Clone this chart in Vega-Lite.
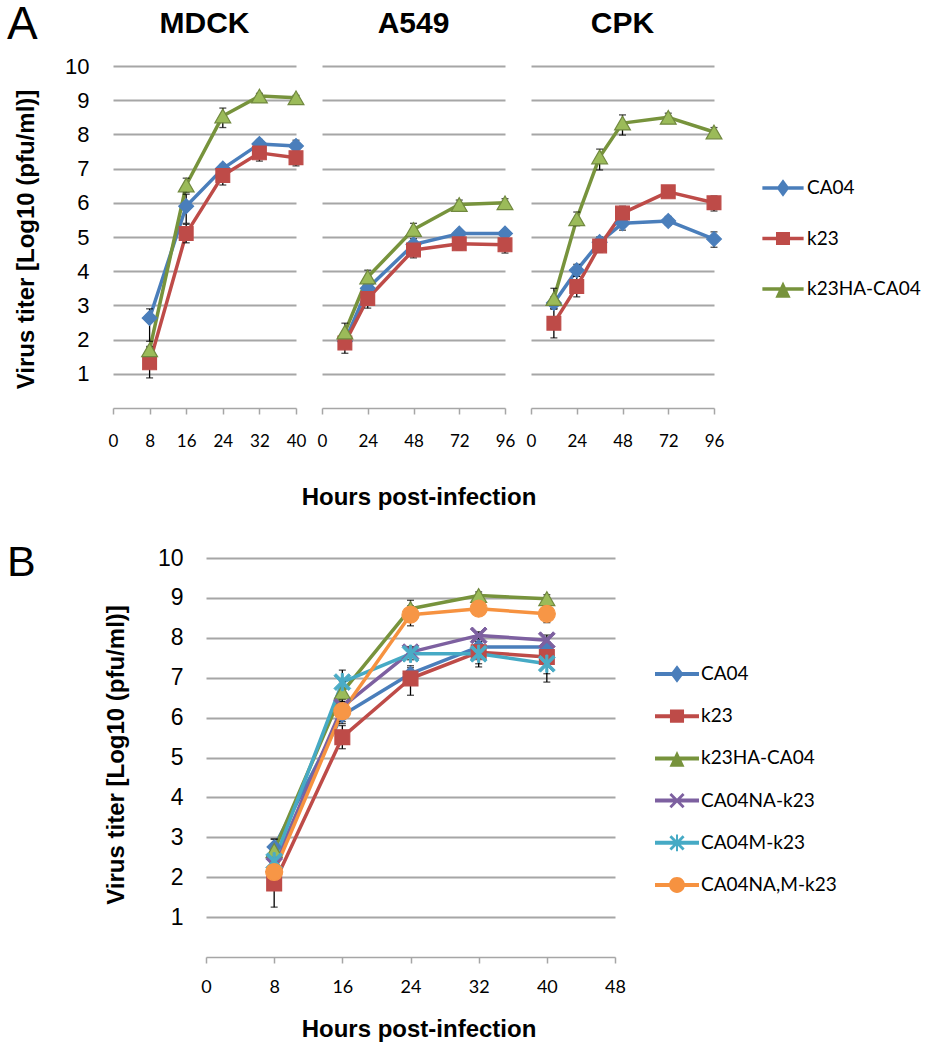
{
  "$schema": "https://vega.github.io/schema/vega-lite/v6.json",
  "padding": {"left": 7, "top": 2, "right": 5, "bottom": 5},
  "background": "white",
  "datasets": {
    "a": [
      {"cell": "MDCK", "strain": "CA04", "h": 8, "v": 2.63, "lo": 1.95, "hi": 2.9},
      {"cell": "MDCK", "strain": "CA04", "h": 16, "v": 5.9, "lo": 5.4, "hi": 6.25},
      {"cell": "MDCK", "strain": "CA04", "h": 24, "v": 7.0, "lo": 6.88, "hi": 7.12},
      {"cell": "MDCK", "strain": "CA04", "h": 32, "v": 7.72, "lo": 7.6, "hi": 7.85},
      {"cell": "MDCK", "strain": "CA04", "h": 40, "v": 7.66, "lo": 7.5, "hi": 7.83},
      {"cell": "MDCK", "strain": "k23", "h": 8, "v": 1.32, "lo": 0.88, "hi": 1.76},
      {"cell": "MDCK", "strain": "k23", "h": 16, "v": 5.1, "lo": 4.83, "hi": 5.37},
      {"cell": "MDCK", "strain": "k23", "h": 24, "v": 6.8, "lo": 6.52, "hi": 7.08},
      {"cell": "MDCK", "strain": "k23", "h": 32, "v": 7.46, "lo": 7.22, "hi": 7.7},
      {"cell": "MDCK", "strain": "k23", "h": 40, "v": 7.32, "lo": 7.08, "hi": 7.56},
      {"cell": "MDCK", "strain": "k23HA-CA04", "h": 8, "v": 1.7, "lo": 1.6, "hi": 1.8},
      {"cell": "MDCK", "strain": "k23HA-CA04", "h": 16, "v": 6.52, "lo": 6.3, "hi": 6.72},
      {"cell": "MDCK", "strain": "k23HA-CA04", "h": 24, "v": 8.54, "lo": 8.2, "hi": 8.77},
      {"cell": "MDCK", "strain": "k23HA-CA04", "h": 32, "v": 9.12, "lo": 9.05, "hi": 9.2},
      {"cell": "MDCK", "strain": "k23HA-CA04", "h": 40, "v": 9.07, "lo": 9.0, "hi": 9.14},
      {"cell": "A549", "strain": "CA04", "h": 12, "v": 1.95, "lo": 1.8, "hi": 2.1},
      {"cell": "A549", "strain": "CA04", "h": 24, "v": 3.5, "lo": 3.35, "hi": 3.65},
      {"cell": "A549", "strain": "CA04", "h": 48, "v": 4.78, "lo": 4.65, "hi": 4.95},
      {"cell": "A549", "strain": "CA04", "h": 72, "v": 5.1, "lo": 5.0, "hi": 5.2},
      {"cell": "A549", "strain": "CA04", "h": 96, "v": 5.1, "lo": 5.0, "hi": 5.2},
      {"cell": "A549", "strain": "k23", "h": 12, "v": 1.9, "lo": 1.6, "hi": 2.2},
      {"cell": "A549", "strain": "k23", "h": 24, "v": 3.2, "lo": 2.92, "hi": 3.48},
      {"cell": "A549", "strain": "k23", "h": 48, "v": 4.62, "lo": 4.39, "hi": 4.85},
      {"cell": "A549", "strain": "k23", "h": 72, "v": 4.8, "lo": 4.62, "hi": 4.98},
      {"cell": "A549", "strain": "k23", "h": 96, "v": 4.77, "lo": 4.53, "hi": 5.0},
      {"cell": "A549", "strain": "k23HA-CA04", "h": 12, "v": 2.22, "lo": 1.96, "hi": 2.48},
      {"cell": "A549", "strain": "k23HA-CA04", "h": 24, "v": 3.83, "lo": 3.63, "hi": 4.03},
      {"cell": "A549", "strain": "k23HA-CA04", "h": 48, "v": 5.22, "lo": 5.04, "hi": 5.4},
      {"cell": "A549", "strain": "k23HA-CA04", "h": 72, "v": 5.95, "lo": 5.82, "hi": 6.08},
      {"cell": "A549", "strain": "k23HA-CA04", "h": 96, "v": 6.0, "lo": 5.88, "hi": 6.12},
      {"cell": "CPK", "strain": "CA04", "h": 12, "v": 3.07, "lo": 2.9, "hi": 3.25},
      {"cell": "CPK", "strain": "CA04", "h": 24, "v": 4.03, "lo": 3.85, "hi": 4.2},
      {"cell": "CPK", "strain": "CA04", "h": 36, "v": 4.85, "lo": 4.7, "hi": 5.0},
      {"cell": "CPK", "strain": "CA04", "h": 48, "v": 5.4, "lo": 5.2, "hi": 5.6},
      {"cell": "CPK", "strain": "CA04", "h": 72, "v": 5.47, "lo": 5.35, "hi": 5.6},
      {"cell": "CPK", "strain": "CA04", "h": 96, "v": 4.94, "lo": 4.7, "hi": 5.15},
      {"cell": "CPK", "strain": "k23", "h": 12, "v": 2.48, "lo": 2.05, "hi": 2.9},
      {"cell": "CPK", "strain": "k23", "h": 24, "v": 3.55, "lo": 3.25, "hi": 3.85},
      {"cell": "CPK", "strain": "k23", "h": 36, "v": 4.74, "lo": 4.55, "hi": 4.95},
      {"cell": "CPK", "strain": "k23", "h": 48, "v": 5.7, "lo": 5.5, "hi": 5.9},
      {"cell": "CPK", "strain": "k23", "h": 72, "v": 6.32, "lo": 6.2, "hi": 6.45},
      {"cell": "CPK", "strain": "k23", "h": 96, "v": 6.0, "lo": 5.76, "hi": 6.2},
      {"cell": "CPK", "strain": "k23HA-CA04", "h": 12, "v": 3.2, "lo": 2.9, "hi": 3.5},
      {"cell": "CPK", "strain": "k23HA-CA04", "h": 24, "v": 5.53, "lo": 5.33, "hi": 5.73},
      {"cell": "CPK", "strain": "k23HA-CA04", "h": 36, "v": 7.34, "lo": 6.96, "hi": 7.57},
      {"cell": "CPK", "strain": "k23HA-CA04", "h": 48, "v": 8.33, "lo": 7.98, "hi": 8.57},
      {"cell": "CPK", "strain": "k23HA-CA04", "h": 72, "v": 8.5, "lo": 8.4, "hi": 8.62},
      {"cell": "CPK", "strain": "k23HA-CA04", "h": 96, "v": 8.07, "lo": 7.95, "hi": 8.2}
    ],
    "b": [
      {"strain": "CA04", "h": 8, "v": 2.76, "lo": 2.6, "hi": 2.95},
      {"strain": "CA04", "h": 16, "v": 6.06, "lo": 5.85, "hi": 6.25},
      {"strain": "CA04", "h": 24, "v": 7.1, "lo": 6.95, "hi": 7.25},
      {"strain": "CA04", "h": 32, "v": 7.77, "lo": 7.6, "hi": 7.9},
      {"strain": "CA04", "h": 40, "v": 7.77, "lo": 7.6, "hi": 7.9},
      {"strain": "k23", "h": 8, "v": 1.84, "lo": 1.25, "hi": 2.4},
      {"strain": "k23", "h": 16, "v": 5.51, "lo": 5.22, "hi": 5.8},
      {"strain": "k23", "h": 24, "v": 6.98, "lo": 6.56, "hi": 7.3},
      {"strain": "k23", "h": 32, "v": 7.64, "lo": 7.27, "hi": 7.9},
      {"strain": "k23", "h": 40, "v": 7.52, "lo": 7.1, "hi": 7.8},
      {"strain": "k23HA-CA04", "h": 8, "v": 2.67, "lo": 2.4, "hi": 2.96},
      {"strain": "k23HA-CA04", "h": 16, "v": 6.64, "lo": 6.4, "hi": 6.9},
      {"strain": "k23HA-CA04", "h": 24, "v": 8.73, "lo": 8.5, "hi": 8.94},
      {"strain": "k23HA-CA04", "h": 32, "v": 9.06, "lo": 8.95, "hi": 9.15},
      {"strain": "k23HA-CA04", "h": 40, "v": 8.98, "lo": 8.88, "hi": 9.08},
      {"strain": "CA04NA-k23", "h": 8, "v": 2.3, "lo": 2.15, "hi": 2.45},
      {"strain": "CA04NA-k23", "h": 16, "v": 6.27, "lo": 6.1, "hi": 6.45},
      {"strain": "CA04NA-k23", "h": 24, "v": 7.64, "lo": 7.5, "hi": 7.78},
      {"strain": "CA04NA-k23", "h": 32, "v": 8.06, "lo": 7.95, "hi": 8.15},
      {"strain": "CA04NA-k23", "h": 40, "v": 7.94, "lo": 7.8, "hi": 8.07},
      {"strain": "CA04M-k23", "h": 8, "v": 2.4, "lo": 2.1, "hi": 2.7},
      {"strain": "CA04M-k23", "h": 16, "v": 6.89, "lo": 6.6, "hi": 7.19},
      {"strain": "CA04M-k23", "h": 24, "v": 7.6, "lo": 7.45, "hi": 7.75},
      {"strain": "CA04M-k23", "h": 32, "v": 7.6, "lo": 7.35, "hi": 7.85},
      {"strain": "CA04M-k23", "h": 40, "v": 7.35, "lo": 6.89, "hi": 7.6},
      {"strain": "CA04NA,M-k23", "h": 8, "v": 2.13, "lo": 1.9, "hi": 2.35},
      {"strain": "CA04NA,M-k23", "h": 16, "v": 6.16, "lo": 5.9, "hi": 6.4},
      {"strain": "CA04NA,M-k23", "h": 24, "v": 8.58, "lo": 8.3, "hi": 8.8},
      {"strain": "CA04NA,M-k23", "h": 32, "v": 8.73, "lo": 8.6, "hi": 8.85},
      {"strain": "CA04NA,M-k23", "h": 40, "v": 8.6, "lo": 8.38, "hi": 8.8}
    ]
  },
  "spacing": 33,
  "resolve": {
    "scale": {"color": "independent"},
    "legend": {"color": "independent"}
  },
  "vconcat": [
    {
      "title": {"text": "A", "anchor": "start", "frame": "group", "dx": -106, "offset": 0, "dy": 76, "baseline": "alphabetic", "font": "Liberation Sans", "fontSize": 46, "fontWeight": "normal", "color": "black"},
      "bounds": "flush",
      "spacing": 26,
      "hconcat": [
        {
          "width": 183, "height": 342,
          "title": {"text": "MDCK"},
          "data": {"name": "a"},
          "transform": [{"filter": "datum.cell == 'MDCK'"}],
          "encoding": {
            "x": {"field": "h", "type": "quantitative", "scale": {"domain": [0, 40], "nice": false}, "axis": {"values": [0, 8, 16, 24, 32, 40], "title": null}},
            "y": {"field": "v", "type": "quantitative", "scale": {"domain": [0, 10], "nice": false}, "axis": {"values": [1,2,3,4,5,6,7,8,9,10], "title": "Virus titer [Log10 (pfu/ml)]", "titleX": -80, "titleY": 173, "titleBaseline": "alphabetic", "titleAlign": "center", "titleAngle": 270, "titleFont": "Liberation Sans", "titleFontSize": 24, "titleFontWeight": "bold", "titleColor": "black", "labelFontSize": 22, "labelPadding": 24}}
          },
          "layer": [
            {"mark": {"type": "line", "strokeWidth": 3.5, "strokeJoin": "round"},
             "encoding": {"color": {"field": "strain", "type": "nominal", "scale": {"domain": ["CA04", "k23", "k23HA-CA04"], "range": ["#4A7EBB", "#BE4B48", "#77933C"]},
               "legend": {"title": null, "orient": "none", "legendX": 649, "legendY": 101, "padding": 0, "symbolSize": 1700, "labelFont": "Lato", "labelFontSize": 19, "labelColor": "black", "labelOffset": 3, "labelLimit": 400, "rowPadding": 19.5, "symbolStrokeWidth": 0,
                 "encode": {"symbols": {"update": {
                   "shape": {"signal": "datum.value == 'CA04' ? 'M-1,-0.09H1V0.09H-1Z M0,-0.42L0.31,0L0,0.42L-0.31,0Z' : datum.value == 'k23' ? 'M-1,-0.09H1V0.09H-1Z M-0.34,-0.32H0.34V0.32H-0.34Z' : 'M-1,-0.09H1V0.09H-1Z M0,-0.36L0.37,0.42H-0.37Z'"},
                   "fill": {"signal": "datum.value == 'CA04' ? '#4A7EBB' : datum.value == 'k23' ? '#BE4B48' : '#77933C'"},
                   "size": {"value": 1700},
                   "strokeWidth": {"value": 0},
                   "opacity": {"value": 1}}}}}}}},
            {"mark": {"type": "errorbar", "color": "black", "thickness": 1.3, "ticks": {"size": 7}},
             "encoding": {"y": {"field": "lo", "type": "quantitative", "scale": {"domain": [0, 10], "nice": false}, "axis": {"values": [1,2,3,4,5,6,7,8,9,10], "title": "Virus titer [Log10 (pfu/ml)]", "titleX": -80, "titleY": 173, "titleBaseline": "alphabetic", "titleAlign": "center", "titleAngle": 270, "titleFont": "Liberation Sans", "titleFontSize": 24, "titleFontWeight": "bold", "titleColor": "black", "labelFontSize": 22, "labelPadding": 24}}, "y2": {"field": "hi"}}},
            {"transform": [{"filter": "datum.strain == 'CA04'"}], "mark": {"type": "point", "shape": "diamond", "filled": true, "opacity": 1, "fill": "#4A7EBB", "stroke": "#4A7EBB", "strokeWidth": 1.2, "size": 220}},
            {"transform": [{"filter": "datum.strain == 'k23'"}], "mark": {"type": "point", "shape": "square", "filled": true, "opacity": 1, "fill": "#BE4B48", "stroke": "#BE4B48", "strokeWidth": 1.2, "size": 190}},
            {"transform": [{"filter": "datum.strain == 'k23HA-CA04'"}], "mark": {"type": "point", "shape": "triangle-up", "filled": true, "opacity": 1, "fill": "#9BBB59", "stroke": "#71893F", "strokeWidth": 1.2, "size": 250}}
          ]
        },
        {
          "width": 183, "height": 342,
          "title": {"text": "A549"},
          "data": {"name": "a"},
          "transform": [{"filter": "datum.cell == 'A549'"}],
          "encoding": {
            "x": {"field": "h", "type": "quantitative", "scale": {"domain": [0, 96], "nice": false}, "axis": {"values": [0, 24, 48, 72, 96], "title": "Hours post-infection", "titleX": 96.5, "titleY": 96, "titleBaseline": "alphabetic", "titleAlign": "center", "titleFont": "Liberation Sans", "titleFontSize": 24, "titleFontWeight": "bold", "titleColor": "black"}},
            "y": {"field": "v", "type": "quantitative", "scale": {"domain": [0, 10], "nice": false}, "axis": {"values": [1,2,3,4,5,6,7,8,9,10], "title": null, "labelColor": "transparent", "labelFontSize": 22, "labelPadding": 24}}
          },
          "layer": [
            {"mark": {"type": "line", "strokeWidth": 3.5, "strokeJoin": "round"},
             "encoding": {"color": {"field": "strain", "type": "nominal", "scale": {"domain": ["CA04", "k23", "k23HA-CA04"], "range": ["#4A7EBB", "#BE4B48", "#77933C"]},
               "legend": {"title": null, "orient": "none", "legendX": 649, "legendY": 101, "padding": 0, "symbolSize": 1700, "labelFont": "Lato", "labelFontSize": 19, "labelColor": "black", "labelOffset": 3, "labelLimit": 400, "rowPadding": 19.5, "symbolStrokeWidth": 0,
                 "encode": {"symbols": {"update": {
                   "shape": {"signal": "datum.value == 'CA04' ? 'M-1,-0.09H1V0.09H-1Z M0,-0.42L0.31,0L0,0.42L-0.31,0Z' : datum.value == 'k23' ? 'M-1,-0.09H1V0.09H-1Z M-0.34,-0.32H0.34V0.32H-0.34Z' : 'M-1,-0.09H1V0.09H-1Z M0,-0.36L0.37,0.42H-0.37Z'"},
                   "fill": {"signal": "datum.value == 'CA04' ? '#4A7EBB' : datum.value == 'k23' ? '#BE4B48' : '#77933C'"},
                   "size": {"value": 1700},
                   "strokeWidth": {"value": 0},
                   "opacity": {"value": 1}}}}}}}},
            {"mark": {"type": "errorbar", "color": "black", "thickness": 1.3, "ticks": {"size": 7}},
             "encoding": {"y": {"field": "lo", "type": "quantitative", "scale": {"domain": [0, 10], "nice": false}, "axis": {"values": [1,2,3,4,5,6,7,8,9,10], "title": null, "labelColor": "transparent", "labelFontSize": 22, "labelPadding": 24}}, "y2": {"field": "hi"}}},
            {"transform": [{"filter": "datum.strain == 'CA04'"}], "mark": {"type": "point", "shape": "diamond", "filled": true, "opacity": 1, "fill": "#4A7EBB", "stroke": "#4A7EBB", "strokeWidth": 1.2, "size": 220}},
            {"transform": [{"filter": "datum.strain == 'k23'"}], "mark": {"type": "point", "shape": "square", "filled": true, "opacity": 1, "fill": "#BE4B48", "stroke": "#BE4B48", "strokeWidth": 1.2, "size": 190}},
            {"transform": [{"filter": "datum.strain == 'k23HA-CA04'"}], "mark": {"type": "point", "shape": "triangle-up", "filled": true, "opacity": 1, "fill": "#9BBB59", "stroke": "#71893F", "strokeWidth": 1.2, "size": 250}}
          ]
        },
        {
          "width": 183, "height": 342,
          "title": {"text": "CPK"},
          "data": {"name": "a"},
          "transform": [{"filter": "datum.cell == 'CPK'"}],
          "encoding": {
            "x": {"field": "h", "type": "quantitative", "scale": {"domain": [0, 96], "nice": false}, "axis": {"values": [0, 24, 48, 72, 96], "title": null}},
            "y": {"field": "v", "type": "quantitative", "scale": {"domain": [0, 10], "nice": false}, "axis": {"values": [1,2,3,4,5,6,7,8,9,10], "title": null, "labelColor": "transparent", "labelFontSize": 22, "labelPadding": 24}}
          },
          "layer": [
            {"mark": {"type": "line", "strokeWidth": 3.5, "strokeJoin": "round"},
             "encoding": {"color": {"field": "strain", "type": "nominal", "scale": {"domain": ["CA04", "k23", "k23HA-CA04"], "range": ["#4A7EBB", "#BE4B48", "#77933C"]},
               "legend": {"title": null, "orient": "none", "legendX": 649, "legendY": 101, "padding": 0, "symbolSize": 1700, "labelFont": "Lato", "labelFontSize": 19, "labelColor": "black", "labelOffset": 3, "labelLimit": 400, "rowPadding": 19.5, "symbolStrokeWidth": 0,
                 "encode": {"symbols": {"update": {
                   "shape": {"signal": "datum.value == 'CA04' ? 'M-1,-0.09H1V0.09H-1Z M0,-0.42L0.31,0L0,0.42L-0.31,0Z' : datum.value == 'k23' ? 'M-1,-0.09H1V0.09H-1Z M-0.34,-0.32H0.34V0.32H-0.34Z' : 'M-1,-0.09H1V0.09H-1Z M0,-0.36L0.37,0.42H-0.37Z'"},
                   "fill": {"signal": "datum.value == 'CA04' ? '#4A7EBB' : datum.value == 'k23' ? '#BE4B48' : '#77933C'"},
                   "size": {"value": 1700},
                   "strokeWidth": {"value": 0},
                   "opacity": {"value": 1}}}}}}}},
            {"mark": {"type": "errorbar", "color": "black", "thickness": 1.3, "ticks": {"size": 7}},
             "encoding": {"y": {"field": "lo", "type": "quantitative", "scale": {"domain": [0, 10], "nice": false}, "axis": {"values": [1,2,3,4,5,6,7,8,9,10], "title": null, "labelColor": "transparent", "labelFontSize": 22, "labelPadding": 24}}, "y2": {"field": "hi"}}},
            {"transform": [{"filter": "datum.strain == 'CA04'"}], "mark": {"type": "point", "shape": "diamond", "filled": true, "opacity": 1, "fill": "#4A7EBB", "stroke": "#4A7EBB", "strokeWidth": 1.2, "size": 220}},
            {"transform": [{"filter": "datum.strain == 'k23'"}], "mark": {"type": "point", "shape": "square", "filled": true, "opacity": 1, "fill": "#BE4B48", "stroke": "#BE4B48", "strokeWidth": 1.2, "size": 190}},
            {"transform": [{"filter": "datum.strain == 'k23HA-CA04'"}], "mark": {"type": "point", "shape": "triangle-up", "filled": true, "opacity": 1, "fill": "#9BBB59", "stroke": "#71893F", "strokeWidth": 1.2, "size": 250}}
          ]
        }
      ]
    },
    {
      "bounds": "flush",
      "spacing": 26,
      "hconcat": [
        {"width": 67, "height": 1, "data": {"values": []}, "mark": "point"},
        {
          "width": 409, "height": 399,
          "title": {"text": "B", "anchor": "start", "frame": "group", "dx": -199, "offset": 0, "dy": 72, "baseline": "alphabetic", "font": "Liberation Sans", "fontSize": 43, "fontWeight": "normal", "color": "black"},
          "data": {"name": "b"},
          "encoding": {
            "x": {"field": "h", "type": "quantitative", "scale": {"domain": [0, 48], "nice": false}, "axis": {"values": [0, 8, 16, 24, 32, 40, 48], "labelFontSize": 18, "labelPadding": 29, "title": "Hours post-infection", "titleX": 212.5, "titleY": 79, "titleBaseline": "alphabetic", "titleAlign": "center", "titleFont": "Liberation Sans", "titleFontSize": 24, "titleFontWeight": "bold", "titleColor": "black"}},
            "y": {"field": "v", "type": "quantitative", "scale": {"domain": [0, 10], "nice": false}, "axis": {"values": [1,2,3,4,5,6,7,8,9,10], "title": "Virus titer [Log10 (pfu/ml)]", "titleX": -83, "titleY": 196.5, "titleBaseline": "alphabetic", "titleAlign": "center", "titleAngle": 270, "titleFont": "Liberation Sans", "titleFontSize": 24, "titleFontWeight": "bold", "titleColor": "black", "labelFontSize": 23, "labelPadding": 23}}
          },
          "layer": [
            {"mark": {"type": "line", "strokeWidth": 3.5, "strokeJoin": "round"},
             "encoding": {"color": {"field": "strain", "type": "nominal", "scale": {"domain": ["CA04", "k23", "k23HA-CA04", "CA04NA-k23", "CA04M-k23", "CA04NA,M-k23"], "range": ["#4A7EBB", "#BE4B48", "#77933C", "#7D60A0", "#46AAC5", "#F69240"]},
               "legend": {"title": null, "orient": "none", "legendX": 542, "legendY": 94, "padding": 0, "symbolSize": 1936, "labelFont": "Lato", "labelFontSize": 19, "labelColor": "black", "labelOffset": 2, "labelLimit": 400, "rowPadding": 10.2, "symbolStrokeWidth": 0,
                 "encode": {"symbols": {"update": {
                   "shape": {"signal": "datum.value == 'CA04' ? 'M-1,-0.09H1V0.09H-1Z M0,-0.4L0.3,0L0,0.4L-0.3,0Z' : datum.value == 'k23' ? 'M-1,-0.09H1V0.09H-1Z M-0.32,-0.3H0.32V0.3H-0.32Z' : datum.value == 'k23HA-CA04' ? 'M-1,-0.09H1V0.09H-1Z M0,-0.34L0.34,0.38H-0.34Z' : datum.value == 'CA04NA-k23' ? 'M-1,-0.09H1V0.09H-1Z M-0.255,-0.345L0.345,0.255L0.255,0.345L-0.345,-0.255Z M0.345,-0.255L-0.255,0.345L-0.345,0.255L0.255,-0.345Z' : datum.value == 'CA04M-k23' ? 'M-1,-0.09H1V0.09H-1Z M-0.255,-0.345L0.345,0.255L0.255,0.345L-0.345,-0.255Z M0.345,-0.255L-0.255,0.345L-0.345,0.255L0.255,-0.345Z M-0.045,-0.38H0.045V0.38H-0.045Z' : 'M-1,-0.09H1V0.09H-1Z M-0.36,0A0.36,0.36,0,1,1,0.36,0A0.36,0.36,0,1,1,-0.36,0Z'"},
                   "fill": {"signal": "datum.value == 'CA04' ? '#4A7EBB' : datum.value == 'k23' ? '#BE4B48' : datum.value == 'k23HA-CA04' ? '#77933C' : datum.value == 'CA04NA-k23' ? '#7D60A0' : datum.value == 'CA04M-k23' ? '#46AAC5' : '#F69240'"},
                   "size": {"value": 1936},
                   "strokeWidth": {"value": 0},
                   "opacity": {"value": 1}}}}}}}},
            {"mark": {"type": "errorbar", "color": "black", "thickness": 1.3, "ticks": {"size": 7}},
             "encoding": {"y": {"field": "lo", "type": "quantitative", "scale": {"domain": [0, 10], "nice": false}, "axis": {"values": [1,2,3,4,5,6,7,8,9,10], "title": "Virus titer [Log10 (pfu/ml)]", "titleX": -83, "titleY": 196.5, "titleBaseline": "alphabetic", "titleAlign": "center", "titleAngle": 270, "titleFont": "Liberation Sans", "titleFontSize": 24, "titleFontWeight": "bold", "titleColor": "black", "labelFontSize": 23, "labelPadding": 23}}, "y2": {"field": "hi"}}},
            {"transform": [{"filter": "datum.strain == 'CA04'"}], "mark": {"type": "point", "shape": "diamond", "filled": true, "opacity": 1, "fill": "#4A7EBB", "stroke": "#4A7EBB", "strokeWidth": 1.2, "size": 200}},
            {"transform": [{"filter": "datum.strain == 'k23'"}], "mark": {"type": "point", "shape": "square", "filled": true, "opacity": 1, "fill": "#BE4B48", "stroke": "#BE4B48", "strokeWidth": 1.2, "size": 220}},
            {"transform": [{"filter": "datum.strain == 'k23HA-CA04'"}], "mark": {"type": "point", "shape": "triangle-up", "filled": true, "opacity": 1, "fill": "#9BBB59", "stroke": "#71893F", "strokeWidth": 1.2, "size": 256}},
            {"transform": [{"filter": "datum.strain == 'CA04NA-k23'"}], "mark": {"type": "point", "shape": "M-0.73,-0.97L0.97,0.73L0.73,0.97L-0.97,-0.73Z M0.97,-0.73L-0.73,0.97L-0.97,0.73L0.73,-0.97Z", "filled": true, "opacity": 1, "fill": "#7D60A0", "stroke": "#7D60A0", "strokeWidth": 1, "size": 300}},
            {"transform": [{"filter": "datum.strain == 'CA04M-k23'"}], "mark": {"type": "point", "shape": "M-0.73,-0.97L0.97,0.73L0.73,0.97L-0.97,-0.73Z M0.97,-0.73L-0.73,0.97L-0.97,0.73L0.73,-0.97Z M-0.12,-1H0.12V1H-0.12Z", "filled": true, "opacity": 1, "fill": "#4BACC6", "stroke": "#4BACC6", "strokeWidth": 1, "size": 300}},
            {"transform": [{"filter": "datum.strain == 'CA04NA,M-k23'"}], "mark": {"type": "point", "shape": "circle", "filled": true, "opacity": 1, "fill": "#F79646", "stroke": "#F79646", "strokeWidth": 1.2, "size": 289}}
          ]
        }
      ]
    }
  ],
  "config": {
    "view": {"stroke": null},
    "title": {"font": "Liberation Sans", "fontSize": 30, "fontWeight": "bold", "color": "black", "baseline": "alphabetic", "offset": 16, "anchor": "middle"},
    "axis": {"labelColor": "black", "domainColor": "#a6a6a6", "tickColor": "#a6a6a6", "gridColor": "#a6a6a6", "gridWidth": 1.8, "domainWidth": 1.5, "tickWidth": 1.5},
    "axisX": {"grid": false, "tickSize": 6, "labelFont": "Lato", "labelFontSize": 17, "labelBaseline": "alphabetic", "labelPadding": 32, "labelFlush": false, "labelOverlap": false},
    "axisY": {"grid": true, "domain": false, "ticks": false, "tickSize": 0, "labelFont": "Liberation Sans", "labelBaseline": "middle", "labelFlush": false, "labelOverlap": false}
  }
}
